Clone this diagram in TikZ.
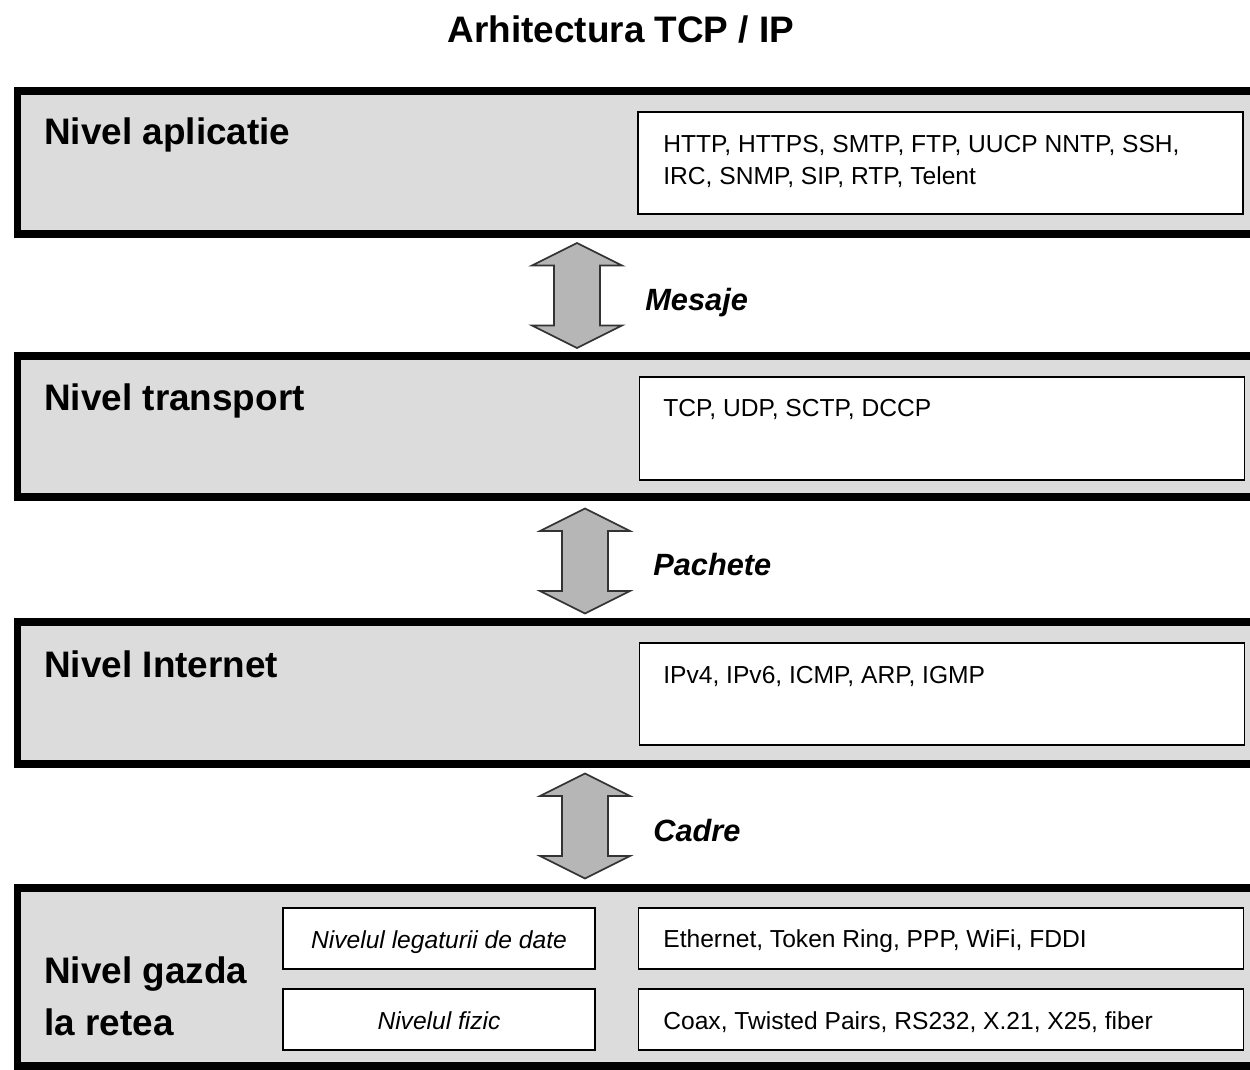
\documentclass[tikz,border=0pt]{standalone}
\usepackage{fontspec}
\setmainfont{Liberation Sans}
\usetikzlibrary{positioning}
\definecolor{layerfill}{RGB}{220,220,220}
\definecolor{arrowfill}{RGB}{182,182,182}

\begin{document}
\begin{tikzpicture}[x=0.02cm, y=-0.02cm,
                    layerbox/.style={draw=black, line width=4.5pt, fill=layerfill},
                    protobox/.style={rectangle, draw=black, line width=0.8pt, fill=white, inner sep=0pt, minimum width=12.1cm},
                    subbox/.style={rectangle, draw=black, line width=0.8pt, fill=white, inner sep=0pt, minimum width=6.24cm, minimum height=1.22cm, text height=13pt, text depth=1.4pt, font=\fontsize{14}{17}\selectfont\itshape},
                    prototext/.style={anchor=base west, inner sep=0pt, align=left, font=\fontsize{14}{18.5}\selectfont},
                    layertitle/.style={anchor=base west, inner sep=0pt, align=left, font=\fontsize{21}{25}\selectfont\bfseries},
                    flowlabel/.style={anchor=base west, inner sep=0pt, font=\fontsize{17.5}{20}\selectfont\bfseries\itshape},
                    flowarrow/.style={draw=black!80, line width=1pt, fill=arrowfill, line join=miter},]
    \useasboundingbox (0,0) rectangle (1250,1070);
    \clip (0,0) rectangle (1250,1070);
    \fill[white] (0,0) rectangle (1250,1070);
    % title
    \node (title) [anchor=base, inner sep=0pt, font=\fontsize{21}{25}\selectfont\bfseries] at (621,43) {Arhitectura TCP / IP};
    % layers
    \draw[layerbox] (17.5,91) rectangle (1262,234);
    \draw[layerbox] (17.5,356) rectangle (1262,497);
    \draw[layerbox] (17.5,622) rectangle (1262,764);
    \draw[layerbox] (17.5,888) rectangle (1262,1066);
    % layer titles
    \node[layertitle] (appname)   at (44,145)  {Nivel aplicatie};
    \node[layertitle] (transname) at (44,411)  {Nivel transport};
    \node[layertitle] (inetname)  at (44,677)  {Nivel Internet};
    \node[layertitle] (hostname)  at (44,1035) {Nivel gazda\\[4.5pt]la retea};
    % protocol boxes
    \node[protobox, minimum height=2.04cm] (appbox)   at (940.5,163)  {};
    \node[protobox, minimum height=2.06cm] (transbox) at (942,428.5)  {};
    \node[protobox, minimum height=2.04cm] (inetbox)  at (942,694)    {};
    \node[protobox, minimum height=1.22cm] (linkbox)  at (941,938.5)  {};
    \node[protobox, minimum height=1.22cm] (physbox)  at (941,1019.5) {};
    \node[subbox] (linkname) at (439,938.5)  {Nivelul legaturii de date};
    \node[subbox] (physname) at (439,1019.5) {Nivelul fizic};
    % protocol lists
    \node[prototext] (apptext)   at (663,185)  {HTTP, HTTPS, SMTP, FTP, UUCP NNTP, SSH,\\IRC, SNMP, SIP, RTP, Telent};
    \node[prototext] (transtext) at (663,417)  {TCP, UDP, SCTP, DCCP};
    \node[prototext] (inettext)  at (663,683)  {IPv4, IPv6, ICMP, ARP, IGMP};
    \node[prototext] (linktext)  at (663,947)  {Ethernet, Token Ring, PPP, WiFi, FDDI};
    \node[prototext] (phystext)  at (663,1029) {Coax, Twisted Pairs, RS232, X.21, X25, fiber};
    % arrows between layers
    \foreach \cx/\cy/\unit in {577/295.5/Mesaje, 585/561/Pachete, 585/826/Cadre} {
        \draw[flowarrow] (\cx,{\cy-52.5}) -- ({\cx+45},{\cy-30}) -- ({\cx+23},{\cy-30})
            -- ({\cx+23},{\cy+30}) -- ({\cx+45},{\cy+30}) -- (\cx,{\cy+52.5})
            -- ({\cx-45},{\cy+30}) -- ({\cx-23},{\cy+30}) -- ({\cx-23},{\cy-30})
            -- ({\cx-45},{\cy-30}) -- cycle;
        \node[flowlabel] (lbl\unit) at ({\cx+68},{\cy+15}) {\unit};
    }
\end{tikzpicture}
\end{document}
